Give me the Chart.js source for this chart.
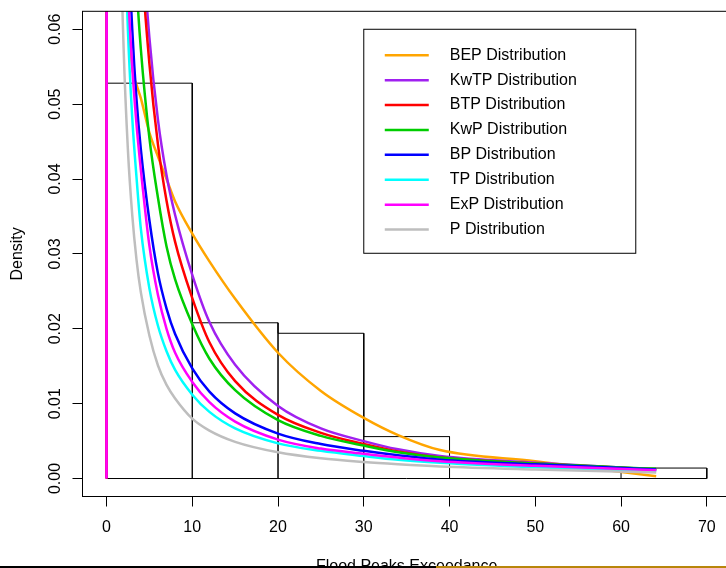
<!DOCTYPE html>
<html>
<head>
<meta charset="utf-8">
<title>Flood peaks density</title>
<script src="https://cdn.jsdelivr.net/npm/chart.js@4.4.1/dist/chart.umd.min.js"></script>
<style>
  html, body { margin: 0; padding: 0; background: #fff; overflow: hidden; }
  #wrap { position: relative; width: 726px; height: 568px; overflow: hidden; }
  canvas { display: block; }
  .strip { position: absolute; bottom: 0; height: 2px; }
</style>
</head>
<body>
<div id="wrap">
  <canvas id="densityChart" width="740" height="568"></canvas>
  <div class="strip" style="left:0;width:436px;background:#000"></div>
  <div class="strip" style="left:436px;right:0;background:#b8860b"></div>
</div>
<script>
// histogram of the exceedances (density scale)
var binEdges = [0, 10, 20, 30, 40, 50, 60, 70];
var binDensity = [0.0528, 0.0208, 0.0194, 0.0056, 0, 0, 0.0014];

var xTicks = [0, 10, 20, 30, 40, 50, 60, 70];
var yTicks = [0, 0.01, 0.02, 0.03, 0.04, 0.05, 0.06];

// x values where the fitted densities are read (null = not drawn there)
var xs = [0, 0.25, 1, 1.5, 2, 2.5, 3, 3.5, 4, 5, 6, 7, 8, 10, 12, 15, 20, 25, 30, 34, 38.9, 50, 64.1];

var bep  = [null, 0.8, 0.25, 0.14, 0.09, 0.064, 0.055, 0.0526, 0.0508, 0.0462, 0.0430, 0.0400, 0.0370, 0.0327, 0.0290, 0.0240, 0.0168, 0.0117, 0.0081, 0.0058, 0.0038, 0.0023, 0.0003];
var kwtp = [0, 1.2, 0.344, 0.2205, 0.1607, 0.1257, 0.1028, 0.0868, 0.0750, 0.0589, 0.0479, 0.0405, 0.0352, 0.0272, 0.0209, 0.0152, 0.0097, 0.0067, 0.0050, 0.0039, 0.0030, 0.0021, 0.0012];
var btp  = [0, 1.1, 0.3245, 0.2077, 0.1514, 0.1184, 0.0969, 0.0818, 0.0706, 0.0554, 0.0446, 0.0371, 0.0316, 0.0241, 0.0182, 0.0130, 0.0085, 0.0061, 0.0046, 0.0036, 0.0028, 0.0020, 0.0012];
var kwp  = [null, 0.9, 0.246, 0.1607, 0.1188, 0.094, 0.0776, 0.0660, 0.0574, 0.0455, 0.0375, 0.0310, 0.0266, 0.0206, 0.0160, 0.0118, 0.0078, 0.0057, 0.0044, 0.0035, 0.0028, 0.0020, 0.0013];
var bp   = [null, 0.8, 0.201, 0.1286, 0.0937, 0.0733, 0.0600, 0.0506, 0.0440, 0.0345, 0.0274, 0.0227, 0.0193, 0.0147, 0.0116, 0.0087, 0.0060, 0.0046, 0.0037, 0.0031, 0.0025, 0.0019, 0.0012];
var tp   = [null, 0.75, 0.188, 0.113, 0.079, 0.0598, 0.0482, 0.0402, 0.0334, 0.0254, 0.0204, 0.0170, 0.0145, 0.0112, 0.0089, 0.0067, 0.0047, 0.0037, 0.0030, 0.0025, 0.0021, 0.0015, 0.0010];
var exp_ = [0, 0.8, 0.19, 0.1186, 0.0864, 0.066, 0.0550, 0.0473, 0.0413, 0.0311, 0.0245, 0.0200, 0.0168, 0.0129, 0.0102, 0.0076, 0.0052, 0.0040, 0.0033, 0.0028, 0.0023, 0.0017, 0.0011];
var par  = [null, 0.5, 0.1316, 0.0809, 0.0573, 0.0438, 0.0352, 0.0292, 0.0249, 0.0191, 0.0151, 0.0125, 0.0107, 0.0080, 0.0064, 0.0049, 0.0035, 0.0027, 0.0022, 0.0019, 0.0016, 0.0012, 0.0008];

var curveNames  = ['BEP Distribution', 'KwTP Distribution', 'BTP Distribution', 'KwP Distribution',
                   'BP Distribution', 'TP Distribution', 'ExP Distribution', 'P Distribution'];
var curveValues = [bep, kwtp, btp, kwp, bp, tp, exp_, par];
var curveColors = ['#FFA500', '#A020F0', '#FF0000', '#00CD00', '#0000FF', '#00FFFF', '#FF00FF', '#BEBEBE'];

var legendAt = [30, 0.06]; // top-left corner of legend, data units

Chart.defaults.font.family = '"Liberation Sans", Arial, Helvetica, sans-serif';
Chart.defaults.font.size = 16;
Chart.defaults.color = '#000';

// outline of the histogram rectangles
var histPath = [{x: binEdges[0], y: 0}];
binDensity.forEach(function (d, i) {
    histPath.push({x: binEdges[i], y: d}, {x: binEdges[i + 1], y: d}, {x: binEdges[i + 1], y: 0});
});
histPath.push({x: binEdges[0], y: 0});

var datasets = [{
    label: 'hist',
    data: histPath,
    borderColor: '#000',
    borderWidth: 1,
    pointRadius: 0,
    tension: 0,
    clip: 0,
    order: 20
}];
curveValues.forEach(function (vals, k) {
    datasets.push({
        label: curveNames[k],
        data: xs.map(function (x, i) { return {x: x, y: vals[i]}; }),
        borderColor: curveColors[k],
        borderWidth: 2.5,
        pointRadius: 0,
        cubicInterpolationMode: 'monotone',
        clip: 0,
        order: curveValues.length - k
    });
});

var framePlugin = {
    id: 'frame',
    afterDatasetsDraw: function (chart) {
        var a = chart.chartArea, ctx = chart.ctx;
        ctx.save();
        ctx.strokeStyle = '#000';
        ctx.lineWidth = 1;
        ctx.strokeRect(a.left, a.top, a.right - a.left, a.bottom - a.top);
        ctx.restore();
    }
};

var legendPlugin = {
    id: 'boxLegend',
    afterDatasetsDraw: function (chart) {
        var ctx = chart.ctx;
        var left = chart.scales.x.getPixelForValue(legendAt[0]);
        var top = chart.scales.y.getPixelForValue(legendAt[1]);
        ctx.save();
        ctx.strokeStyle = '#000';
        ctx.lineWidth = 1;
        ctx.strokeRect(left, top, 272, 224);
        ctx.font = '16px ' + Chart.defaults.font.family;
        ctx.textBaseline = 'middle';
        ctx.fillStyle = '#000';
        curveNames.forEach(function (name, i) {
            var cy = top + 26 + i * 24.9;
            ctx.strokeStyle = curveColors[i];
            ctx.lineWidth = 2.5;
            ctx.beginPath();
            ctx.moveTo(left + 21, cy);
            ctx.lineTo(left + 65, cy);
            ctx.stroke();
            ctx.fillText(name, left + 86, cy);
        });
        ctx.restore();
    }
};

var densityChart = new Chart(document.getElementById('densityChart'), {
    type: 'line',
    data: {datasets: datasets},
    options: {
        responsive: false,
        animation: false,
        devicePixelRatio: 1,
        layout: {padding: {top: 7.5, right: 9.2, bottom: 0, left: 0}},
        plugins: {legend: {display: false}, tooltip: {enabled: false}},
        scales: {
            x: {
                type: 'linear',
                min: -2.8,
                max: 72.8,
                afterBuildTicks: function (s) { s.ticks = xTicks.map(function (v) { return {value: v}; }); },
                afterFit: function (s) { s.height = 71.5; },
                grid: {drawOnChartArea: false, tickLength: 10, tickColor: '#000'},
                border: {display: false},
                ticks: {padding: 11.4, maxRotation: 0, autoSkip: false,
                        callback: function (v) { return String(v); }},
                title: {display: true, text: 'Flood Peaks Exceedance', padding: {top: 0, bottom: -8.3}}
            },
            y: {
                min: -0.0024,
                max: 0.0624,
                afterBuildTicks: function (s) { s.ticks = yTicks.map(function (v) { return {value: v}; }); },
                afterFit: function (s) { s.width = 82.5; },
                grid: {drawOnChartArea: false, tickLength: 10, tickColor: '#000'},
                border: {display: false},
                ticks: {minRotation: 90, maxRotation: 90, crossAlign: 'center', padding: 1.7, autoSkip: false,
                        callback: function (v) { return v.toFixed(2); }},
                title: {display: true, text: 'Density', padding: {top: 8.2, bottom: 0}}
            }
        }
    },
    plugins: [framePlugin, legendPlugin]
});
</script>
</body>
</html>
